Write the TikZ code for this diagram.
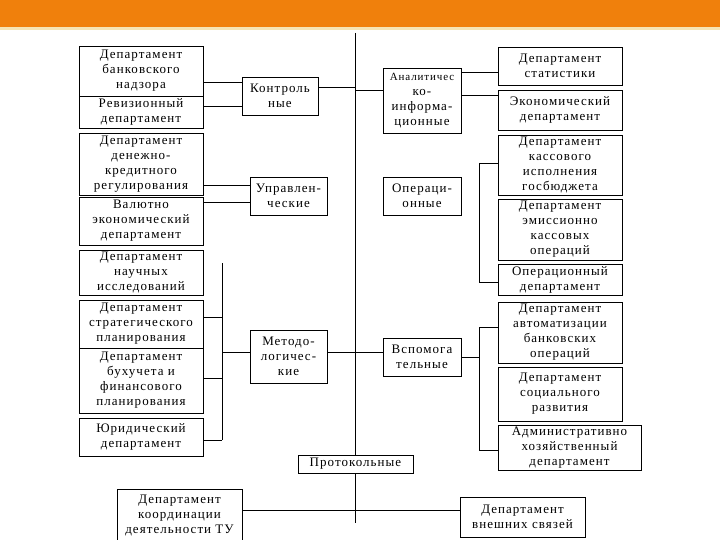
\documentclass[tikz,border=0pt]{standalone}
\usepackage{fontspec}
\setmainfont[LetterSpace=8]{Liberation Serif}
\definecolor{barorange}{HTML}{F0800C}
\definecolor{barpale}{HTML}{F6E4B4}
\begin{document}
\begin{tikzpicture}[x=1pt,y=-1pt,
    dept/.style 2 args={draw,fill=white,line width=0.8pt,inner sep=1pt,
      align=center,minimum width=#1,minimum height=#2,
      font=\fontsize{13}{15}\selectfont},
    wire/.style={line width=0.8pt}]
  \useasboundingbox (0,0) rectangle (720,540);
  % orange band on top
  \fill[barorange] (0,0) rectangle (720,27);
  \fill[barpale] (0,27) rectangle (720,30);
  % the central spine
  \coordinate (top) at (355,33);
  \coordinate (bot) at (355,523);
  \draw[wire] (top) -- (bot);
  % left column
  \node[dept={124}{50}] (nadz) at (141,71) {Департамент\\банковского\\надзора};
  \node[dept={124}{32}] (rev) at (141,112) {Ревизионный\\департамент};
  \node[dept={124}{62}] (dkr) at (141,164) {Департамент\\денежно-\\кредитного\\регулирования};
  \node[dept={124}{48}] (val) at (141,221) {Валютно\\экономический\\департамент};
  \node[dept={124}{45}] (nauch) at (141,272.5) {Департамент\\научных\\исследований};
  \node[dept={124}{48}] (strat) at (141,324) {Департамент\\стратегического\\планирования};
  \node[dept={124}{65}] (buh) at (141,380.5) {Департамент\\бухучета и\\финансового\\планирования};
  \node[dept={124}{38}] (yur) at (141,437) {Юридический\\департамент};
  % groups, left of the spine
  \node[dept={76}{38}] (kontr) at (280,96) {Контроль\\ные};
  \node[dept={77}{38}] (upr) at (288.5,196) {Управлен-\\ческие};
  \node[dept={77}{53}] (metod) at (288.5,356.5) {Методо-\\логичес-\\кие};
  % groups, right of the spine
  \node[dept={78}{65}] (anal) at (422,100.5)
    {{\fontsize{11}{14}\selectfont Аналитичес}\\ко-\\информа-\\ционные};
  \node[dept={78}{38}] (opn) at (422,196) {Операци-\\онные};
  \node[dept={78}{38}] (vsp) at (422,357) {Вспомога\\тельные};
  % right column
  \node[dept={124}{38}] (stat) at (560,66) {Департамент\\статистики};
  \node[dept={124}{40}] (econ) at (560,110) {Экономический\\департамент};
  \node[dept={124}{60}] (kass) at (560,165) {Департамент\\кассового\\исполнения\\госбюджета};
  \node[dept={124}{61}] (emis) at (560,229.5) {Департамент\\эмиссионно\\кассовых\\операций};
  \node[dept={124}{31}] (oper) at (560,279.5) {Операционный\\департамент};
  \node[dept={124}{61}] (avto) at (560,332.5) {Департамент\\автоматизации\\банковских\\операций};
  \node[dept={124}{54}] (soc) at (560,394) {Департамент\\социального\\развития};
  \node[dept={143}{45}] (adm) at (569.5,447.5) {Административно\\хозяйственный\\департамент};
  % bottom row
  \node[dept={115}{18}] (prot) at (355.5,464) {Протокольные};
  \node[dept={125}{52}] (koord) at (179.5,515) {Департамент\\координации\\деятельности ТУ};
  \node[dept={125}{40}] (vnesh) at (522.5,517) {Департамент\\внешних связей};
  % links into the groups
  \draw[wire] (nadz.east |- 0,82) -- (kontr.west |- 0,82);
  \draw[wire] (rev.east |- 0,106) -- (kontr.west |- 0,106);
  \draw[wire] (kontr.east |- 0,87) -- (top |- 0,87);
  \draw[wire] (dkr.east |- 0,185) -- (upr.west |- 0,185);
  \draw[wire] (val.east |- 0,202) -- (upr.west |- 0,202);
  % left bracket
  \coordinate (lb) at (222,263);
  \draw[wire] (lb) -- (lb |- 0,440);
  \foreach \n/\y in {strat/317, buh/378, yur/440}
    \draw[wire] (\n.east |- 0,\y) -- (lb |- 0,\y);
  \draw[wire] (lb |- 0,352) -- (metod.west |- 0,352);
  \draw[wire] (metod.east |- 0,352) -- (vsp.west |- 0,352);
  % right side
  \draw[wire] (top |- 0,90) -- (anal.west |- 0,90);
  \draw[wire] (anal.east |- 0,72) -- (stat.west |- 0,72);
  \draw[wire] (anal.east |- 0,95) -- (econ.west |- 0,95);
  \coordinate (rb) at (479,163);
  \draw[wire] (rb) -- (rb |- 0,282);
  \foreach \n/\y in {kass/163, oper/282}
    \draw[wire] (rb |- 0,\y) -- (\n.west |- 0,\y);
  \coordinate (rc) at (479,327);
  \draw[wire] (rc) -- (rc |- 0,450);
  \foreach \n/\y in {avto/327, adm/450}
    \draw[wire] (rc |- 0,\y) -- (\n.west |- 0,\y);
  \draw[wire] (vsp.east |- 0,357) -- (rc |- 0,357);
  % bottom link
  \draw[wire] (koord.east |- 0,510) -- (vnesh.west |- 0,510);
  % redraw the protocol box over the spine
  \node[dept={115}{18}] at (prot) {Протокольные};
\end{tikzpicture}
\end{document}
